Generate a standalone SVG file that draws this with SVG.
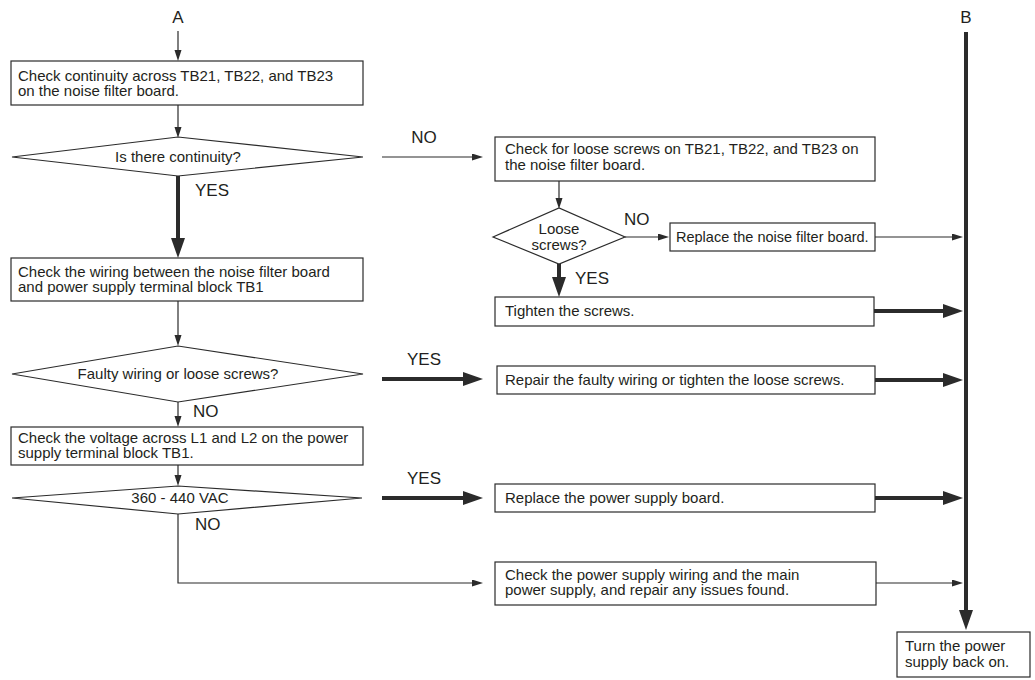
<svg xmlns="http://www.w3.org/2000/svg" width="1035" height="680" viewBox="0 0 1035 680">
  <defs>
    <style>
      .box { fill: #ffffff; stroke: #2b2b2b; stroke-width: 1.2; }
      .dia { fill: #ffffff; stroke: #2b2b2b; stroke-width: 1.2; }
      .txt { font-family: "Liberation Sans", Arial, sans-serif; font-size: 15px; fill: #231f20; }
      .ctr { text-anchor: middle; }
      .lbl { font-family: "Liberation Sans", Arial, sans-serif; font-size: 17px; fill: #231f20; }
      .thin { stroke: #2b2b2b; stroke-width: 1.2; fill: none; }
      .thick { stroke: #2b2b2b; stroke-width: 4; fill: none; }
    </style>
    <marker id="head" markerUnits="userSpaceOnUse" markerWidth="11" markerHeight="8" refX="0" refY="3.5" orient="auto">
      <path d="M0,0 L11,3.5 L0,7 z" fill="#2b2b2b"/>
    </marker>
    <marker id="headBold" markerUnits="userSpaceOnUse" markerWidth="20" markerHeight="14" refX="0" refY="7" orient="auto">
      <path d="M0,0 L20,7 L0,14 z" fill="#2b2b2b"/>
    </marker>
  </defs>

  <!-- connectors -->
  <g id="connectors">
    <!-- A entry -->
    <line class="thin" x1="178" y1="31" x2="178" y2="50" marker-end="url(#head)"/>
    <line class="thin" x1="178" y1="105" x2="178" y2="127" marker-end="url(#head)"/>
    <!-- continuity: NO -->
    <line class="thin" x1="382" y1="157" x2="472" y2="157" marker-end="url(#head)"/>
    <line class="thin" x1="559" y1="181" x2="559" y2="198" marker-end="url(#head)"/>
    <line class="thin" x1="625" y1="237" x2="658" y2="237" marker-end="url(#head)"/>
    <line class="thin" x1="875" y1="237" x2="952" y2="237" marker-end="url(#head)"/>
    <line class="thick" x1="559" y1="264" x2="559" y2="277" marker-end="url(#headBold)"/>
    <line class="thick" x1="874" y1="311" x2="943" y2="311" marker-end="url(#headBold)"/>
    <!-- continuity: YES -->
    <line class="thick" x1="178" y1="176" x2="178" y2="238" marker-end="url(#headBold)"/>
    <line class="thin" x1="178" y1="301" x2="178" y2="335" marker-end="url(#head)"/>
    <!-- faulty wiring: YES / NO -->
    <line class="thick" x1="382" y1="379" x2="463" y2="379" marker-end="url(#headBold)"/>
    <line class="thick" x1="875" y1="380" x2="943" y2="380" marker-end="url(#headBold)"/>
    <line class="thin" x1="178" y1="402" x2="178" y2="416" marker-end="url(#head)"/>
    <line class="thin" x1="178" y1="465" x2="178" y2="475" marker-end="url(#head)"/>
    <!-- voltage: YES / NO -->
    <line class="thick" x1="382" y1="498" x2="463" y2="498" marker-end="url(#headBold)"/>
    <line class="thick" x1="875" y1="498" x2="943" y2="498" marker-end="url(#headBold)"/>
    <polyline class="thin" points="178,514 178,583 472,583" marker-end="url(#head)"/>
    <line class="thin" x1="876" y1="583" x2="952" y2="583" marker-end="url(#head)"/>
    <!-- B return -->
    <line class="thick" x1="966" y1="32" x2="966" y2="610" marker-end="url(#headBold)"/>
  </g>

  <!-- branch labels -->
  <g id="labels">
    <text class="lbl ctr" x="178" y="23">A</text>
    <text class="lbl ctr" x="966" y="23">B</text>
    <text class="lbl ctr" x="424" y="143">NO</text>
    <text class="lbl" x="195" y="196">YES</text>
    <text class="lbl" x="624" y="225">NO</text>
    <text class="lbl" x="575" y="284">YES</text>
    <text class="lbl ctr" x="424" y="365">YES</text>
    <text class="lbl" x="193" y="417">NO</text>
    <text class="lbl ctr" x="424" y="484">YES</text>
    <text class="lbl" x="195" y="530">NO</text>
  </g>

  <g id="check-continuity">
    <rect class="box" x="11" y="61" width="352" height="44"/>
    <text class="txt" x="18" y="81">Check continuity across TB21, TB22, and TB23</text>
    <text class="txt" x="18" y="96">on the noise filter board.</text>
  </g>

  <g id="is-continuity">
    <polygon class="dia" points="12,157 178,137 363,157 178,176"/>
    <text class="txt ctr" x="178" y="162">Is there continuity?</text>
  </g>

  <g id="check-loose-screws">
    <rect class="box" x="495" y="137" width="380" height="44"/>
    <text class="txt" x="505" y="154">Check for loose screws on TB21, TB22, and TB23 on</text>
    <text class="txt" x="505" y="170">the noise filter board.</text>
  </g>

  <g id="loose-screws">
    <polygon class="dia" points="493,237 559,208 625,237 559,264"/>
    <text class="txt ctr" x="559" y="234">Loose</text>
    <text class="txt ctr" x="559" y="250">screws?</text>
  </g>

  <g id="replace-noise-filter">
    <rect class="box" x="670" y="223" width="205" height="28"/>
    <text class="txt" x="676" y="242" style="font-size:14.5px">Replace the noise filter board.</text>
  </g>

  <g id="tighten-screws">
    <rect class="box" x="495" y="297" width="379" height="29"/>
    <text class="txt" x="505" y="316">Tighten the screws.</text>
  </g>

  <g id="check-wiring">
    <rect class="box" x="11" y="258" width="352" height="43"/>
    <text class="txt" x="18" y="277">Check the wiring between the noise filter board</text>
    <text class="txt" x="18" y="292">and power supply terminal block TB1</text>
  </g>

  <g id="faulty-wiring">
    <polygon class="dia" points="12,374 178,346 363,374 178,402"/>
    <text class="txt ctr" x="178" y="379">Faulty wiring or loose screws?</text>
  </g>

  <g id="repair-wiring">
    <rect class="box" x="497" y="366" width="378" height="28"/>
    <text class="txt" x="505" y="385">Repair the faulty wiring or tighten the loose screws.</text>
  </g>

  <g id="check-voltage">
    <rect class="box" x="11" y="427" width="352" height="38"/>
    <text class="txt" x="18" y="443">Check the voltage across L1 and L2 on the power</text>
    <text class="txt" x="18" y="458">supply terminal block TB1.</text>
  </g>

  <g id="voltage-range">
    <polygon class="dia" points="12,498 178,486 362,498 178,514"/>
    <text class="txt ctr" x="180" y="503">360 - 440 VAC</text>
  </g>

  <g id="replace-power-board">
    <rect class="box" x="495" y="484" width="380" height="28"/>
    <text class="txt" x="505" y="503">Replace the power supply board.</text>
  </g>

  <g id="check-main-supply">
    <rect class="box" x="495" y="562" width="381" height="43"/>
    <text class="txt" x="505" y="580">Check the power supply wiring and the main</text>
    <text class="txt" x="505" y="595">power supply, and repair any issues found.</text>
  </g>

  <g id="power-on">
    <rect class="box" x="897" y="632" width="133" height="45"/>
    <text class="txt" x="905" y="651">Turn the power</text>
    <text class="txt" x="905" y="667">supply back on.</text>
  </g>
</svg>
